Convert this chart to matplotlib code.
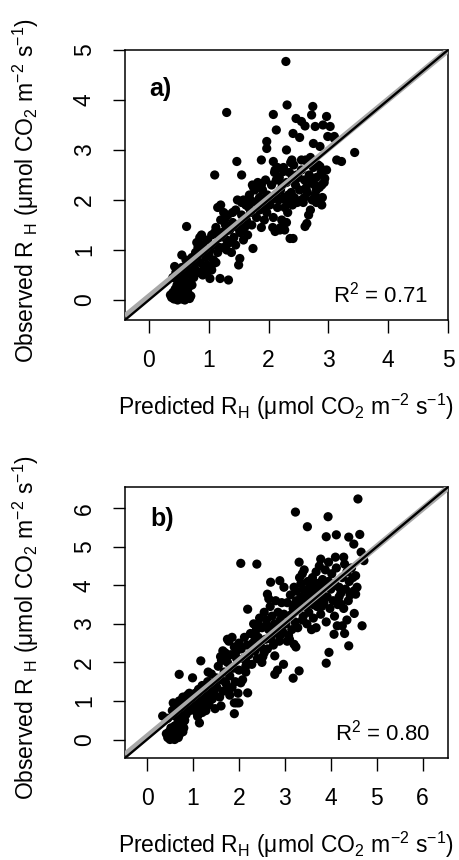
import numpy as np
import matplotlib
matplotlib.use("Agg")
import matplotlib.pyplot as plt

plt.rcParams["font.family"] = ["Liberation Sans", "DejaVu Sans"]
plt.rcParams["mathtext.fontset"] = "custom"
plt.rcParams["mathtext.rm"] = "Liberation Sans"
plt.rcParams["mathtext.it"] = "Liberation Sans:italic"
plt.rcParams["mathtext.bf"] = "Liberation Sans:bold"

# Panel a: predicted vs observed heterotrophic respiration
pred_a = [
    2.29, 1.30, 2.31, 2.74, 2.72, 2.97, 3.03, 2.08, 2.46, 2.55, 2.61, 2.78, 2.13, 2.41, 2.52,
    2.91, 2.99, 3.10, 1.97, 1.97, 2.30, 2.75, 2.86, 3.44, 3.14, 3.22, 3.10, 1.10, 1.47, 1.55,
    1.88, 2.08, 2.11, 2.25, 2.39, 2.55, 2.66, 2.86, 2.94, 2.89, 2.80, 2.86, 2.89, 2.64, 2.61,
    2.41, 2.36, 2.27, 2.19, 2.11, 1.74, 1.52, 1.50, 1.19, 1.33, 0.63, 0.74, 0.96, 1.02, 1.08,
    0.38, 0.42, 0.45, 0.48, 0.50, 0.52, 0.55, 0.58, 0.60, 0.62, 0.65, 0.68, 0.70, 0.40, 0.44,
    0.47, 0.52, 0.56, 0.60, 0.64, 0.36, 0.43, 0.50, 0.55, 0.62, 0.66, 0.72, 0.58, 0.46, 0.53,
    0.40, 0.45, 0.50, 0.55, 0.43, 0.55, 0.60, 0.65, 0.70, 0.75, 0.68, 0.72, 0.62, 0.58,
    0.78, 0.80, 0.82, 0.85, 0.88, 0.90, 0.92, 0.95, 0.98, 0.80, 0.85, 0.90, 0.95, 0.78, 0.88,
    1.00, 0.97, 0.83,
    1.02, 1.05, 1.08, 1.10, 1.12, 1.15, 1.18, 1.20, 1.22, 1.25, 1.28, 1.30, 1.32, 1.35, 1.38,
    1.40, 1.42, 1.45, 1.48, 1.15, 1.20, 1.25, 1.05, 1.12, 1.30, 1.35, 1.45, 1.48, 1.10, 1.18,
    1.40, 1.27,
    1.52, 1.55, 1.58, 1.60, 1.62, 1.65, 1.68, 1.70, 1.72, 1.75, 1.78, 1.80, 1.82, 1.85, 1.88,
    1.90, 1.92, 1.95, 1.98, 1.55, 1.63, 1.70, 1.77, 1.85, 1.93, 1.60, 1.67, 1.73, 1.83, 1.97,
    1.58, 1.88,
    2.02, 2.05, 2.08, 2.10, 2.12, 2.15, 2.18, 2.20, 2.22, 2.25, 2.28, 2.30, 2.32, 2.35, 2.38,
    2.40, 2.42, 2.45, 2.48, 2.05, 2.13, 2.17, 2.23, 2.27, 2.33, 2.37, 2.43, 2.47, 2.07, 2.20,
    2.30, 2.40, 2.15, 2.25, 2.35,
    2.52, 2.55, 2.58, 2.60, 2.62, 2.65, 2.68, 2.70, 2.72, 2.75, 2.78, 2.80, 2.83, 2.85, 2.88,
    2.90, 2.93, 2.97, 2.55, 2.63, 2.67, 2.73, 2.77, 2.50, 2.60, 2.65, 2.70, 2.80,
]
obs_a = [
    4.77, 3.75, 3.90, 3.87, 3.70, 3.67, 3.47, 3.71, 3.63, 3.57, 3.48, 3.47, 3.40, 3.33, 3.25,
    3.50, 3.27, 3.27, 3.17, 3.03, 3.00, 3.13, 3.07, 2.95, 2.80, 2.77, 3.23, 2.50, 2.77, 2.50,
    2.80, 2.77, 2.60, 2.57, 2.80, 2.80, 2.79, 2.67, 2.43, 2.30, 2.20, 1.97, 1.90, 1.53, 1.47,
    1.23, 1.23, 1.40, 1.40, 1.37, 1.03, 0.83, 0.70, 0.43, 0.40, 1.47, 0.70, 0.53, 0.43, 0.73,
    0.05, 0.02, 0.08, 0.00, 0.12, 0.05, 0.02, 0.10, 0.00, 0.06, 0.15, 0.03, 0.08, 0.15, 0.22,
    0.30, 0.25, 0.18, 0.28, 0.35, 0.10, 0.12, 0.35, 0.40, 0.20, 0.25, 0.30, 0.32, 0.18, 0.15,
    0.45, 0.55, 0.50, 0.65, 0.67, 0.90, 0.55, 0.60, 0.50, 0.45, 0.75, 0.85, 0.80, 0.45,
    0.60, 0.90, 1.05, 0.75, 0.95, 1.10, 0.65, 0.85, 1.20, 1.15, 1.25, 0.50, 1.00, 0.95, 1.30,
    0.90, 0.70, 0.55,
    1.00, 1.30, 0.80, 1.10, 1.45, 0.95, 1.25, 1.60, 1.35, 1.05, 1.50, 1.20, 1.70, 1.40, 0.95,
    1.55, 1.25, 1.80, 1.45, 1.85, 1.90, 1.75, 0.60, 0.75, 1.00, 1.15, 1.10, 2.00, 1.35, 1.05,
    1.75, 1.62,
    1.35, 1.70, 2.00, 1.55, 1.90, 1.30, 2.10, 1.75, 1.50, 2.25, 1.95, 1.65, 2.35, 2.05, 1.45,
    2.20, 1.85, 2.40, 2.10, 1.95, 1.60, 2.00, 2.20, 1.80, 1.60, 1.45, 1.85, 2.30, 2.00, 1.75,
    1.20, 2.30,
    1.90, 2.30, 1.65, 2.55, 2.10, 1.85, 2.45, 2.20, 1.60, 2.65, 2.00, 2.35, 1.75, 2.55, 2.15,
    1.90, 2.70, 2.30, 1.95, 2.00, 2.40, 2.00, 2.30, 1.85, 2.10, 2.75, 2.05, 2.50, 1.45, 1.45,
    1.55, 2.45, 2.65, 2.05, 1.95,
    2.20, 2.60, 1.95, 2.40, 2.80, 2.15, 2.50, 1.80, 2.35, 2.65, 2.10, 2.45, 2.70, 2.25, 2.55,
    2.05, 2.35, 2.60, 2.00, 2.25, 1.70, 2.00, 2.30, 2.45, 2.05, 2.75, 2.85, 1.95,
]

# Panel b
pred_b = [
    4.59, 3.23, 3.94, 3.49, 3.90, 4.12, 4.39, 4.63, 4.50, 4.66, 4.72, 2.04, 2.39, 4.10, 4.28,
    3.78, 3.31, 4.54, 4.57, 4.54, 4.18, 4.22, 4.51, 4.68, 4.39, 3.96, 3.90, 4.14, 4.07, 3.20,
    3.24, 3.31, 3.18, 2.97, 2.84, 2.78, 2.78, 2.69, 2.89, 2.98, 2.19, 2.62, 2.37, 2.15, 2.04,
    2.19, 1.90, 2.00, 1.90, 1.17, 0.70, 0.99, 0.34, 1.14, 0.81, 1.61,
    0.45, 0.50, 0.52, 0.55, 0.58, 0.60, 0.62, 0.65, 0.68, 0.70, 0.48, 0.52, 0.56, 0.60, 0.64,
    0.72, 0.75, 0.78, 0.42, 0.66, 0.58, 0.47, 0.80, 0.54,
    0.45, 0.55, 0.60, 0.62, 0.65, 0.70, 0.72, 0.75, 0.78, 0.80, 0.83, 0.85, 0.88, 0.90, 0.93,
    0.95, 0.98, 0.68, 0.82, 0.92, 0.57, 0.73,
    1.02, 1.05, 1.08, 1.10, 1.12, 1.15, 1.18, 1.20, 1.22, 1.25, 1.28, 1.30, 1.32, 1.35, 1.38,
    1.40, 1.42, 1.45, 1.48, 1.10, 1.20, 1.33, 1.45, 1.50, 1.15, 1.27,
    1.52, 1.55, 1.58, 1.60, 1.62, 1.65, 1.68, 1.70, 1.72, 1.75, 1.78, 1.80, 1.82, 1.85, 1.88,
    1.90, 1.92, 1.95, 1.98, 2.00, 2.05, 2.08, 2.10, 2.12, 2.15, 2.18, 1.65, 1.75, 1.85, 1.70,
    1.80, 1.95, 2.00, 1.60, 1.72, 1.93, 2.15, 1.76,
    2.22, 2.25, 2.28, 2.30, 2.32, 2.35, 2.38, 2.40, 2.42, 2.45, 2.48, 2.50, 2.52, 2.55, 2.58,
    2.60, 2.62, 2.65, 2.68, 2.70, 2.72, 2.75, 2.78, 2.80, 2.83, 2.85, 2.88, 2.90, 2.93, 2.95,
    2.98, 2.45, 2.60, 2.75, 2.50, 2.55, 2.35, 2.40, 2.65, 2.90,
    3.02, 3.05, 3.08, 3.10, 3.12, 3.15, 3.18, 3.20, 3.22, 3.25, 3.28, 3.30, 3.32, 3.35, 3.38,
    3.40, 3.42, 3.45, 3.48, 3.50, 3.15, 3.25, 3.35, 3.45, 3.05, 3.30, 3.40, 3.20, 3.10, 3.38,
    3.52, 3.55, 3.58, 3.60, 3.62, 3.65, 3.68, 3.70, 3.72, 3.75, 3.78, 3.80, 3.82, 3.85, 3.88,
    3.90, 3.92, 3.95, 3.98, 4.00, 4.02, 4.05, 4.08, 4.10, 4.12, 4.15, 4.18, 3.55, 3.65, 3.75,
    3.85, 3.60, 3.70, 3.80, 3.58, 3.68, 3.95, 3.50, 3.62, 3.78,
    4.22, 4.25, 4.28, 4.30, 4.32, 4.35, 4.38, 4.40, 4.45, 4.50, 4.25, 4.30, 4.35, 4.42, 4.48,
]
obs_b = [
    6.24, 5.90, 5.78, 5.52, 5.26, 5.31, 5.25, 5.32, 5.07, 4.86, 4.64, 4.57, 4.55, 4.73, 4.73,
    4.68, 4.60, 4.25, 3.95, 3.77, 3.70, 3.51, 3.27, 2.95, 2.43, 2.26, 1.98, 2.95, 2.73, 2.47,
    2.40, 1.78, 1.59, 1.95, 1.80, 1.69, 2.17, 4.08, 4.12, 3.95, 3.38, 3.77, 2.95, 2.04, 1.47,
    1.21, 0.95, 0.95, 0.67, 2.04, 1.69, 1.60, 0.61, 0.43, 0.48, 0.87,
    0.05, 0.00, 0.10, 0.03, 0.15, 0.00, 0.08, 0.20, 0.05, 0.12, 0.20, 0.30, 0.25, 0.35, 0.30,
    0.25, 0.35, 0.20, 0.15, 0.40, 0.05, 0.10, 0.30, 0.18,
    0.55, 0.75, 0.90, 0.60, 0.85, 1.00, 0.70, 0.95, 1.10, 0.80, 1.05, 0.65, 1.15, 0.90, 0.75,
    1.10, 0.85, 0.55, 0.50, 1.20, 0.95, 0.82,
    0.95, 1.20, 0.70, 1.05, 1.30, 0.85, 1.15, 1.40, 0.95, 1.25, 0.75, 1.10, 1.50, 0.90, 1.30,
    1.70, 1.05, 1.45, 0.80, 0.60, 0.70, 1.75, 1.20, 1.60, 1.00, 1.05,
    1.35, 1.90, 1.10, 1.55, 2.05, 1.25, 1.75, 2.25, 1.45, 2.00, 2.55, 1.65, 2.20, 1.35, 1.85,
    2.40, 1.50, 2.10, 1.20, 1.80, 2.35, 1.55, 2.10, 2.65, 1.90, 2.45, 2.30, 2.60, 2.65, 1.50,
    1.15, 0.95, 2.50, 2.15, 2.05, 2.25, 1.75, 1.30,
    2.20, 2.75, 1.95, 2.50, 3.00, 2.30, 2.85, 2.10, 2.65, 3.15, 2.40, 2.90, 2.15, 3.30, 2.60,
    3.10, 2.35, 2.85, 3.45, 2.60, 3.20, 2.45, 3.00, 3.60, 2.75, 3.30, 2.55, 3.10, 3.55, 2.80,
    3.25, 2.95, 2.95, 2.95, 2.00, 2.25, 2.65, 2.95, 3.65, 2.70,
    3.00, 3.55, 2.70, 3.20, 3.75, 2.85, 3.40, 3.95, 3.05, 3.60, 2.90, 3.35, 4.20, 3.70, 3.10,
    3.90, 4.40, 3.45, 3.00, 3.80, 3.25, 3.85, 4.05, 3.65, 2.55, 3.55, 3.20, 3.50, 2.60, 4.30,
    3.30, 4.00, 3.55, 4.20, 3.15, 3.75, 4.35, 3.45, 3.95, 4.50, 3.25, 3.80, 4.15, 3.55, 4.40,
    3.05, 3.70, 4.10, 3.40, 3.90, 4.30, 3.60, 3.20, 4.00, 4.45, 3.50, 3.95, 3.70, 3.95, 3.65,
    3.95, 3.90, 4.05, 3.45, 2.85, 2.90, 4.60, 4.10, 3.50, 3.85,
    3.80, 4.20, 3.40, 4.55, 3.90, 4.35, 3.60, 4.10, 4.45, 3.85, 2.95, 2.75, 3.10, 3.75, 4.20,
]

# regression lines (intercept, slope)
fit_a = (0.07, 0.985)
fit_b = (0.08, 0.985)

panels = [
    dict(pred=pred_a, obs=obs_a, fit=fit_a, lim=(-0.4, 5.0), ticks=[0, 1, 2, 3, 4, 5],
         tag="a)", r2="0.71", tag_xy=(0.0, 4.22), r2_xy=(4.67, 0.1)),
    dict(pred=pred_b, obs=obs_b, fit=fit_b, lim=(-0.48, 6.55), ticks=[0, 1, 2, 3, 4, 5, 6],
         tag="b)", r2="0.80", tag_xy=(0.08, 5.72), r2_xy=(6.17, 0.17)),
]
axes_pos = [
    [0.2723, 0.6279, 0.7037, 0.3140],
    [0.2723, 0.1186, 0.7037, 0.3151],
]

xlabel = "Predicted R$_{\\mathrm{H}}$ (μmol CO$_2$ m$^{-2}$ s$^{-1}$)"
ylabel = "Observed R $_{\\mathrm{H}}$ (μmol CO$_2$ m$^{-2}$ s$^{-1}$)"

fig = plt.figure(figsize=(4.59, 8.6), dpi=100)

for p, pos in zip(panels, axes_pos):
    ax = fig.add_axes(pos)
    lo, hi = p["lim"]
    ax.set_xlim(lo, hi)
    ax.set_ylim(lo, hi)

    ax.scatter(p["pred"], p["obs"], s=44, color="black", edgecolors="none", zorder=2)

    xx = np.array([lo, hi])
    b0, b1 = p["fit"]
    ax.plot(xx, b0 + b1 * xx, color="#a8a8a8", lw=4.2, zorder=3, solid_capstyle="butt")
    ax.plot(xx, xx, color="black", lw=1.7, zorder=4)

    ax.text(p["tag_xy"][0], p["tag_xy"][1], p["tag"], fontsize=18, fontweight="bold",
            ha="left", va="center")
    ax.text(p["r2_xy"][0], p["r2_xy"][1], "R$^2$ = " + p["r2"], fontsize=16,
            ha="right", va="center")

    ax.set_xticks(p["ticks"])
    ax.set_yticks(p["ticks"])
    ax.tick_params(axis="both", length=9, width=1.0, labelsize=16.5, pad=12)
    for lab in ax.get_yticklabels():
        lab.set_rotation(90)
        lab.set_va("center")
    for sp in ax.spines.values():
        sp.set_linewidth(1.1)

    ax.set_xlabel(xlabel, fontsize=16.5)
    ax.set_ylabel(ylabel, fontsize=16.5)
    ax.xaxis.set_label_coords(0.5, -0.265)
    ax.yaxis.set_label_coords(-0.26, 0.48)

fig.savefig("out.png", dpi=100)
